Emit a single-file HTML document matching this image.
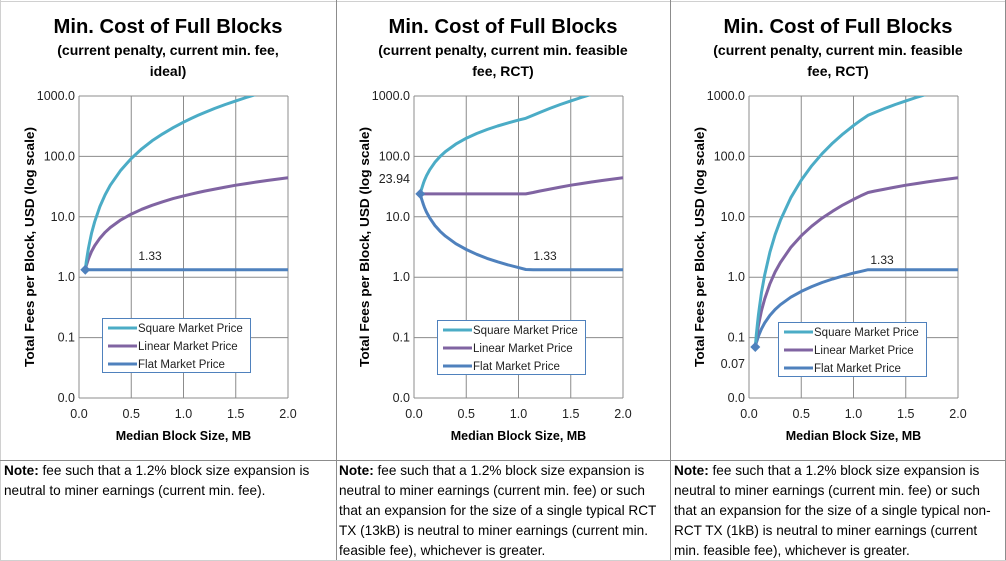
<!DOCTYPE html>
<html><head><meta charset="utf-8"><style>
body{margin:0;background:#fff;}
svg{display:block;font-family:"Liberation Sans",sans-serif;}
</style></head><body>
<svg id="root" width="1006" height="561" viewBox="0 0 1006 561">
<rect x="0" y="0" width="1006" height="561" fill="#fff"/>
<line x1="0" y1="1.5" x2="1006" y2="1.5" stroke="#d0d0d0"/>
<line x1="0.5" y1="0" x2="0.5" y2="561" stroke="#d0d0d0"/>
<line x1="1005.5" y1="0" x2="1005.5" y2="561" stroke="#8c8c8c"/>
<line x1="336.5" y1="0" x2="336.5" y2="561" stroke="#8c8c8c"/>
<line x1="670.5" y1="0" x2="670.5" y2="561" stroke="#8c8c8c"/>
<line x1="0" y1="460.5" x2="1006" y2="460.5" stroke="#8c8c8c"/>
<line x1="0" y1="560.5" x2="1006" y2="560.5" stroke="#d0d0d0"/>
<g id="charts"></g>
<g font-size="13.6" fill="#000">
<text x="4" y="475"><tspan font-weight="bold">Note:</tspan> fee such that a 1.2% block size expansion is</text>
<text x="4" y="495">neutral to miner earnings (current min. fee).</text>
<text x="339" y="475"><tspan font-weight="bold">Note:</tspan> fee such that a 1.2% block size expansion is</text>
<text x="339" y="495">neutral to miner earnings (current min. fee) or such</text>
<text x="339" y="515">that an expansion for the size of a single typical RCT</text>
<text x="339" y="535">TX (13kB) is neutral to miner earnings (current min.</text>
<text x="339" y="555">feasible fee), whichever is greater.</text>
<text x="674" y="475"><tspan font-weight="bold">Note:</tspan> fee such that a 1.2% block size expansion is</text>
<text x="674" y="495">neutral to miner earnings (current min. fee) or such</text>
<text x="674" y="515">that an expansion for the size of a single typical non-</text>
<text x="674" y="535">RCT TX (1kB) is neutral to miner earnings (current</text>
<text x="674" y="555">min. feasible fee), whichever is greater.</text>
</g>
</svg>
<script>
const xValues = [0.06,0.07,0.08,0.09,0.1,0.12,0.15,0.2,0.25,0.3,0.4,0.5,0.6,0.7,0.8,0.9,1.0,1.07,1.14,1.2,1.3,1.4,1.5,1.6,1.7,1.8,1.9,2.0];
const xTicks = [0,0.5,1.0,1.5,2.0];
const xTickLabels = ["0.0","0.5","1.0","1.5","2.0"];
const yTicks = [1000,100,10,1,0.1,0.01];
const yTickLabels = ["1000.0","100.0","10.0","1.0","0.1","0.0"];
const seriesNames = ["Square Market Price","Linear Market Price","Flat Market Price"];
const square1 = [1.33,1.81,2.36,2.99,3.69,5.32,8.31,14.8,23.1,33.3,59.1,92.4,133,181,236,299,369,423,480,532,624,724,831,946,1068,1197,1334,1478];
const linear1 = [1.33,1.55,1.77,2.0,2.22,2.66,3.33,4.43,5.54,6.65,8.87,11.1,13.3,15.5,17.7,20.0,22.2,23.7,25.3,26.6,28.8,31.0,33.3,35.5,37.7,39.9,42.1,44.3];
const flat1 = [1.33,1.33,1.33,1.33,1.33,1.33,1.33,1.33,1.33,1.33,1.33,1.33,1.33,1.33,1.33,1.33,1.33,1.33,1.33,1.33,1.33,1.33,1.33,1.33,1.33,1.33,1.33,1.33];
const square2 = [23.94,27.9,31.9,35.9,39.9,47.9,59.9,79.8,99.8,120,160,200,239,279,319,359,399,427,480,532,624,724,831,946,1068,1197,1334,1478];
const linear2 = [23.94,23.94,23.94,23.94,23.94,23.94,23.94,23.94,23.94,23.94,23.94,23.94,23.94,23.94,23.94,23.94,23.94,23.94,25.3,26.6,28.8,31.0,33.3,35.5,37.7,39.9,42.1,44.3];
const flat2 = [23.94,20.5,17.96,15.96,14.36,11.97,9.58,7.18,5.75,4.79,3.59,2.87,2.39,2.05,1.80,1.60,1.44,1.34,1.33,1.33,1.33,1.33,1.33,1.33,1.33,1.33,1.33,1.33];
const square3 = [0.07,0.111,0.166,0.236,0.324,0.56,1.09,2.59,5.06,8.75,20.7,40.5,70,111,166,236,324,397,480,532,624,724,831,946,1068,1197,1334,1478];
const linear3 = [0.07,0.095,0.124,0.158,0.194,0.28,0.4375,0.778,1.22,1.75,3.11,4.86,7.0,9.53,12.4,15.75,19.4,22.3,25.3,26.6,28.8,31.0,33.3,35.5,37.7,39.9,42.1,44.3];
const flat3 = [0.07,0.082,0.093,0.105,0.117,0.14,0.175,0.233,0.292,0.35,0.467,0.583,0.70,0.817,0.933,1.05,1.167,1.248,1.33,1.33,1.33,1.33,1.33,1.33,1.33,1.33,1.33,1.33];
const startLabels = ["","23.94","0.07"];
const flatLabel = "1.33";

const NS="http://www.w3.org/2000/svg";
const colors=["#4bacc6","#8064a2","#4f81bd"];
const panels=[
 {ox:0,sub:["(current penalty, current min. fee,","ideal)"],data:[square1,linear1,flat1],legY:318,legX:102,lab:[150,260]},
 {ox:335,sub:["(current penalty, current min. feasible","fee, RCT)"],data:[square2,linear2,flat2],legY:320,legX:437,lab:[545,260]},
 {ox:670,sub:["(current penalty, current min. feasible","fee, RCT)"],data:[square3,linear3,flat3],legY:322,legX:778,lab:[882,264]}
];
function mk(tag,attrs,parent,txt){const e=document.createElementNS(NS,tag);for(const k in attrs)e.setAttribute(k,attrs[k]);if(txt!==undefined)e.textContent=txt;parent.appendChild(e);return e;}
const root=document.getElementById('charts');
panels.forEach((p,pi)=>{
 const L=79+p.ox,R=288+p.ox,T=96,B=398;
 const xs=v=>L+(v/2)*(R-L);
 const ys=v=>B-(Math.log10(v)+2)/5*(B-T);
 const g=mk('g',{},root);
 
 
 const cx=p.ox+168;
 const t=mk('text',{x:cx,y:33,'text-anchor':'middle','font-size':'20','font-weight':'bold',textLength:'229',lengthAdjust:'spacingAndGlyphs'},g,'Min. Cost of Full Blocks');
 
 
 p.sub.forEach((s,i)=>{const st=mk('text',{x:cx,y:55+i*21,'text-anchor':'middle','font-size':'14','font-weight':'bold'},g,s);
  
  });
 xTicks.forEach((v,i)=>{const ln=mk('line',{x1:xs(v),y1:T,x2:xs(v),y2:B,stroke:'#8c8c8c'},g);
  
  
  const tl=mk('text',{x:xs(v),y:B+20,'text-anchor':'middle','font-size':'12.5',fill:'#222'},g,xTickLabels[i]);
  
  });
 yTicks.forEach((v,i)=>{const ln=mk('line',{x1:L,y1:ys(v),x2:R,y2:ys(v),stroke:'#8c8c8c'},g);
  
  
  const tl=mk('text',{x:L-4,y:ys(v)+4,'text-anchor':'end','font-size':'12.5',fill:'#222'},g,yTickLabels[i]);
  
  });
 const xt=mk('text',{x:(L+R)/2,y:440,'text-anchor':'middle','font-size':'12.5','font-weight':'bold'},g,'Median Block Size, MB');
 
 
 const yt=mk('text',{x:0,y:0,'text-anchor':'middle','font-size':'13','font-weight':'bold',textLength:'240',lengthAdjust:'spacingAndGlyphs',transform:`translate(${p.ox+34},${(T+B)/2}) rotate(-90)`},g,'Total Fees per Block, USD (log scale)');
 
 
 const cp=mk('clipPath',{id:'clip'+pi},g);mk('rect',{x:L-6,y:T,width:R-L+12,height:B-T},cp);
 const sg=mk('g',{'clip-path':`url(#clip${pi})`},g);
 [2,1,0].forEach(si=>{
  const d=p.data[si].map((v,i)=>(i?'L':'M')+xs(xValues[i]).toFixed(1)+','+ys(v).toFixed(1)).join('');
  const path=mk('path',{d:d,fill:'none',stroke:colors[si],'stroke-width':'3','stroke-linejoin':'round'},sg);
  
  
 });
 const mx=xs(xValues[0]),my=ys(p.data[2][0]);
 const mkr=mk('path',{d:`M${mx-5},${my}L${mx},${my-5}L${mx+5},${my}L${mx},${my+5}Z`,fill:'#4f81bd'},g);
 
 
 const fl=mk('text',{x:p.lab[0],y:p.lab[1],'text-anchor':'middle','font-size':'12',fill:'#222'},g,flatLabel);
 
 
 if(startLabels[pi]){
  const sy=pi===1?my-15:my+17;
  const sl=mk('text',{x:L-4,y:sy+4,'text-anchor':'end','font-size':'12.5',fill:'#222'},g,startLabels[pi]);
  
  
 }
 const lg=mk('g',{},g);
 
 
 mk('rect',{x:p.legX+0.5,y:p.legY+0.5,width:148,height:54,fill:'#fff',stroke:'#4f81bd'},lg);
 seriesNames.forEach((n,i)=>{
  const yy=p.legY+10+i*18;
  const e=mk('g',{},lg);
  
  
  mk('line',{x1:p.legX+6,y1:yy,x2:p.legX+35,y2:yy,stroke:colors[i],'stroke-width':'3'},e);
  mk('text',{x:p.legX+36,y:yy+4,'font-size':'11.5',fill:'#222'},e,n);
 });
});
</script>
</body></html>
